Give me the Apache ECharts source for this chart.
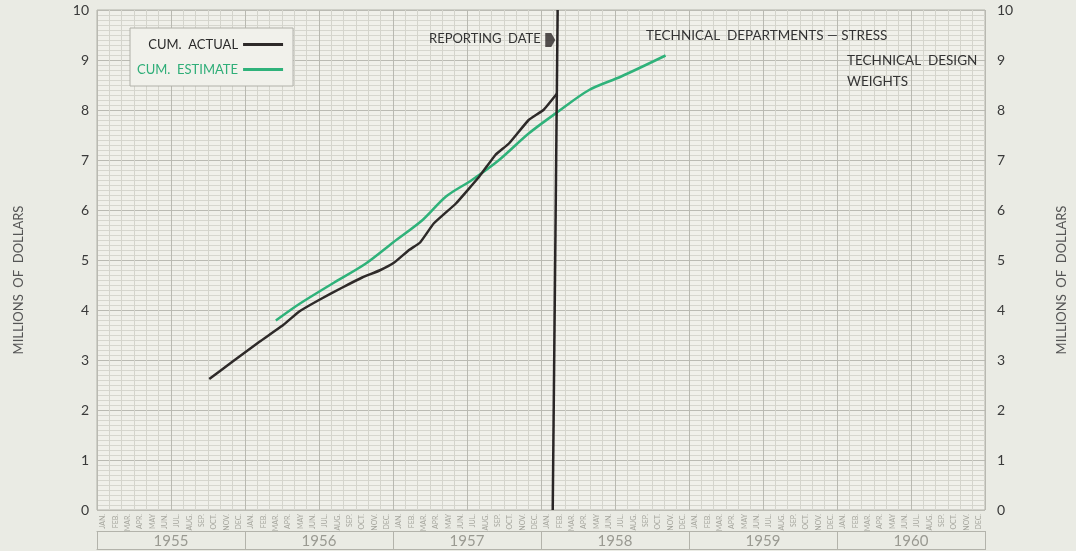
<!DOCTYPE html>
<html>
<head>
<meta charset="utf-8">
<script src="https://cdn.jsdelivr.net/npm/echarts@6/dist/echarts.min.js"></script>
<style>
html,body{margin:0;padding:0;background:#eaebe4;}
#chart{width:1076px;height:551px;}
</style>
</head>
<body>
<div id="chart"></div>
<script>
// ---- data (x = months since start of Jan 1955) ----
const monthNames = ['JAN.','FEB.','MAR.','APR.','MAY','JUN.','JUL.','AUG.','SEP.','OCT.','NOV.','DEC.'];
const years = ['1955','1956','1957','1958','1959','1960'];
const yTicks = [0,1,2,3,4,5,6,7,8,9,10];

const actualMonths = [9.1, 11.0, 13.2, 15.1, 16.4, 18.0, 19.9, 21.5, 22.9, 24.1, 25.3, 26.2, 27.3, 29.1, 31.0, 32.3, 33.4, 35.0, 36.2, 37.3];
const actualValues = [2.62, 2.97, 3.37, 3.70, 3.97, 4.20, 4.45, 4.65, 4.79, 4.95, 5.20, 5.35, 5.73, 6.13, 6.67, 7.10, 7.33, 7.80, 8.00, 8.33];

const estimateMonths = [14.5, 16.4, 19.1, 21.8, 24.0, 26.4, 28.3, 30.4, 32.6, 35.0, 37.4, 39.9, 42.5, 46.1];
const estimateValues = [3.79, 4.12, 4.53, 4.93, 5.35, 5.80, 6.27, 6.60, 7.00, 7.53, 7.97, 8.40, 8.67, 9.09];

const reportingMonths = [36.95, 37.35];
const reportingValues = [0, 10];
const arrowMonth = [36.75];
const arrowValue = [9.4];

const monthLabels = [];
years.forEach(() => monthNames.forEach(m => monthLabels.push(m)));
const pairs = (xs, ys) => xs.map((x, i) => [x, ys[i]]);

const FONT = 'Lato';
const annot = { fontFamily: FONT, fontSize: 13.5, fontWeight: 'normal', color: '#333' };
const chart = echarts.init(document.getElementById('chart'));
chart.setOption({
  animation: false,
  backgroundColor: '#eaebe4',
  textStyle: { fontFamily: FONT },
  grid: { left: 97, right: 88, top: 10, bottom: 41, show: true, backgroundColor: '#f0f0ea', borderColor: '#b3b3ab', borderWidth: 1 },
  title: [
    { text: 'REPORTING  DATE', left: 429, top: 32, padding: 0, textStyle: Object.assign({}, annot, { fontSize: 13 }) },
    { text: 'TECHNICAL  DEPARTMENTS — STRESS', left: 646, top: 29, padding: 0, textStyle: annot },
    { text: 'TECHNICAL  DESIGN', left: 847, top: 54, padding: 0, textStyle: annot },
    { text: 'WEIGHTS', left: 847, top: 75, padding: 0, textStyle: annot }
  ],
  legend: {
    data: [
      { name: 'CUM.  ACTUAL', textStyle: { color: '#2a2a2a' } },
      { name: 'CUM.  ESTIMATE', textStyle: { color: '#2fae78' } }
    ],
    orient: 'vertical', align: 'right', left: 130, top: 28,
    backgroundColor: '#f1f1eb', borderColor: '#b0b0a8', borderWidth: 1,
    padding: [10, 10, 10, 7], itemGap: 12, itemWidth: 40, itemHeight: 3, icon: 'rect',
    textStyle: { fontFamily: FONT, fontSize: 13 }
  },
  xAxis: [
    { type: 'value', min: 0, max: 72, interval: 6, gridIndex: 0,
      axisLabel: { show: false }, axisLine: { show: false }, axisTick: { show: false },
      splitLine: { show: true, lineStyle: { color: '#b9b9b1', width: 1 } },
      minorTick: { show: false, splitNumber: 6 },
      minorSplitLine: { show: true, lineStyle: { color: '#d4d4cc', width: 1 } } },
    { type: 'category', data: monthLabels, position: 'bottom', boundaryGap: true, gridIndex: 0,
      axisLine: { show: false }, axisTick: { show: false }, splitLine: { show: false },
      axisLabel: { interval: 0, rotate: 90, fontSize: 7, color: '#a5a59d', margin: 4, fontFamily: FONT } },
    { type: 'category', data: years, position: 'bottom', offset: 21, boundaryGap: true, gridIndex: 0,
      axisLine: { show: true, lineStyle: { color: '#b3b3ab' } },
      axisTick: { show: true, interval: 0, length: 19, lineStyle: { color: '#b3b3ab' } },
      splitLine: { show: false },
      axisLabel: { interval: 0, fontSize: 15, color: '#9a9a92', margin: 3, fontFamily: FONT } },
    { type: 'category', data: [''], position: 'bottom', offset: 39, gridIndex: 0,
      axisLine: { show: true, lineStyle: { color: '#b3b3ab' } },
      axisTick: { show: false }, axisLabel: { show: false }, splitLine: { show: false } }
  ],
  yAxis: [
    { type: 'value', min: 0, max: 10, interval: 1, position: 'left',
      name: 'MILLIONS  OF  DOLLARS', nameLocation: 'middle', nameRotate: 90, nameGap: 72,
      nameTextStyle: { fontSize: 13, color: '#555', fontFamily: FONT, padding: [0, 40, 0, 0] },
      axisLine: { show: false }, axisTick: { show: false },
      axisLabel: { fontSize: 14, color: '#3a3a3a', margin: 8, fontFamily: FONT },
      splitLine: { show: true, lineStyle: { color: '#bbbbb3' } },
      minorTick: { show: false, splitNumber: 10 },
      minorSplitLine: { show: true, lineStyle: { color: '#d6d6ce' } } },
    { type: 'value', min: 0, max: 10, interval: 1, position: 'right',
      name: 'MILLIONS  OF  DOLLARS', nameLocation: 'middle', nameRotate: 90, nameGap: 70,
      nameTextStyle: { fontSize: 13, color: '#555', fontFamily: FONT, padding: [0, 40, 0, 0] },
      axisLine: { show: false }, axisTick: { show: false },
      axisLabel: { fontSize: 14, color: '#3a3a3a', margin: 12, fontFamily: FONT },
      splitLine: { show: false } }
  ],
  series: [
    { name: 'CUM.  ACTUAL', type: 'line', xAxisIndex: 0, yAxisIndex: 0, data: pairs(actualMonths, actualValues),
      symbol: 'none', smooth: 0.1, color: '#2e2a29', lineStyle: { color: '#2e2a29', width: 2.5 }, z: 4 },
    { name: 'CUM.  ESTIMATE', type: 'line', xAxisIndex: 0, yAxisIndex: 0, data: pairs(estimateMonths, estimateValues),
      symbol: 'none', smooth: 0.3, color: '#2fb27a', lineStyle: { color: '#2fb27a', width: 2.5 }, z: 3 },
    { name: 'Reporting date', type: 'line', xAxisIndex: 0, yAxisIndex: 0, data: pairs(reportingMonths, reportingValues),
      symbol: 'none', lineStyle: { color: '#2a2626', width: 2.5 }, z: 5 },
    { name: 'Reporting arrow', type: 'scatter', xAxisIndex: 0, yAxisIndex: 0, data: pairs(arrowMonth, arrowValue),
      symbol: 'path://M0,0 L6,0 L10,7 L6,14 L0,14 Z', symbolSize: [10, 14], itemStyle: { color: '#2a2626' }, z: 5 }
  ]
});
</script>
</body>
</html>
